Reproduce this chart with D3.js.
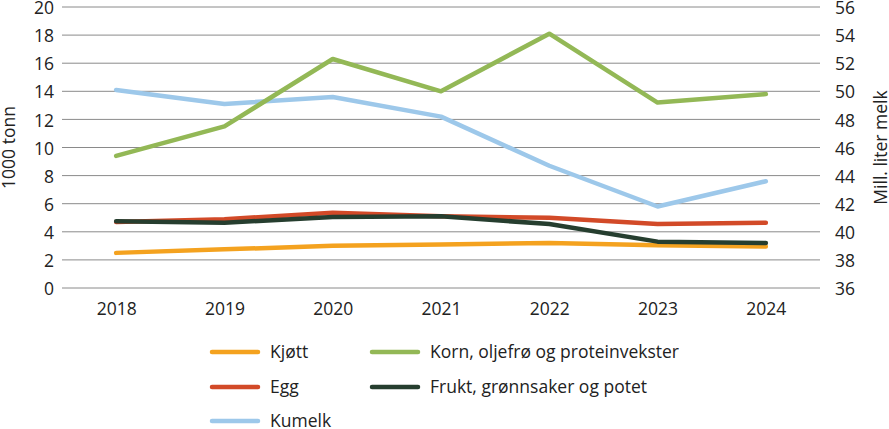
<!DOCTYPE html>
<html>
<head>
<meta charset="utf-8">
<script src="https://cdn.jsdelivr.net/npm/d3@7"></script>
<style>
  body { margin: 0; background: #fff; }
  svg text { font-family: "Open Sans", sans-serif; fill: #222; }
</style>
</head>
<body>
<svg id="chart" width="889" height="429"></svg>
<script>
// years on the x axis
var years = ["2018", "2019", "2020", "2021", "2022", "2023", "2024"];

// left axis, 1000 tonn
var kjott = [2.5, 2.75, 3.0, 3.1, 3.2, 3.05, 2.95];
var egg = [4.7, 4.9, 5.35, 5.1, 5.0, 4.55, 4.65];
var korn = [9.4, 11.5, 16.3, 14.0, 18.1, 13.2, 13.8];
var frukt = [4.75, 4.65, 5.05, 5.1, 4.55, 3.3, 3.2];

// right axis, mill. liter melk
var kumelk = [50.1, 49.1, 49.6, 48.2, 44.7, 41.8, 43.6];

var leftTicks = [0, 2, 4, 6, 8, 10, 12, 14, 16, 18, 20];
var rightTicks = [36, 38, 40, 42, 44, 46, 48, 50, 52, 54, 56];

var series = [
  { name: "Kjøtt", values: kjott, color: "#f4a21f", axis: "left" },
  { name: "Egg", values: egg, color: "#d24a28", axis: "left" },
  { name: "Kumelk", values: kumelk, color: "#9dc8ea", axis: "right" },
  { name: "Korn, oljefrø og proteinvekster", values: korn, color: "#93b856", axis: "left" },
  { name: "Frukt, grønnsaker og potet", values: frukt, color: "#263e2f", axis: "left" }
];

function drawChart(){
  var svg = d3.select("#chart");
  var mLeft = 62, mRight = 820, mTop = 7, mBottom = 288;
  var fs = "17.5px";

  var x = d3.scalePoint().domain(years).range([mLeft, mRight]).padding(0.5);
  var yL = d3.scaleLinear().domain([0, 20]).range([mBottom, mTop]);
  var yR = d3.scaleLinear().domain([36, 56]).range([mBottom, mTop]);

  // grid
  svg.append("g").selectAll("line").data(leftTicks).enter().append("line")
    .attr("x1", mLeft).attr("x2", mRight)
    .attr("y1", function(d){ return yL(d); })
    .attr("y2", function(d){ return yL(d); })
    .attr("stroke", "#8a8a8a").attr("stroke-width", 1);

  // axes (labels only)
  var gl = svg.append("g").attr("transform", "translate(" + (mLeft - 8) + ",1)")
    .call(d3.axisLeft(yL).tickValues(leftTicks).tickSize(0).tickPadding(0));
  var gr = svg.append("g").attr("transform", "translate(" + (mRight + 15) + ",1)")
    .call(d3.axisRight(yR).tickValues(rightTicks).tickSize(0).tickPadding(0));
  var gx = svg.append("g").attr("transform", "translate(0," + (mBottom + 12) + ")")
    .call(d3.axisBottom(x).tickSize(0).tickPadding(3));
  [gl, gr, gx].forEach(function(g){
    g.select(".domain").remove();
    g.selectAll("text").style("font-size", fs).attr("fill", "#222")
      .style("font-family", "'Open Sans', sans-serif");
  });

  // axis titles
  svg.append("text").attr("transform", "translate(15," + ((mTop + mBottom) / 2) + ") rotate(-90)")
    .attr("text-anchor", "middle").style("font-size", fs).text("1000 tonn");
  svg.append("text").attr("transform", "translate(887," + ((mTop + mBottom) / 2) + ") rotate(-90)")
    .attr("text-anchor", "middle").style("font-size", fs).text("Mill. liter melk");

  // lines
  var drawOrder = [0, 2, 3, 1, 4];
  drawOrder.forEach(function(i){
    var s = series[i];
    var yy = s.axis === "left" ? yL : yR;
    var line = d3.line()
      .x(function(d, j){ return x(years[j]); })
      .y(function(d){ return yy(d); });
    svg.append("path").datum(s.values)
      .attr("d", line)
      .attr("fill", "none")
      .attr("stroke", s.color)
      .attr("stroke-width", 4.5)
      .attr("stroke-linejoin", "round")
      .attr("stroke-linecap", "round");
  });

  // legend
  var legendPos = [[212, 352], [212, 387], [212, 421], [372, 352], [372, 387]];
  series.forEach(function(s, k){
    var p = legendPos[k];
    svg.append("line").attr("x1", p[0]).attr("x2", p[0] + 46)
      .attr("y1", p[1]).attr("y2", p[1])
      .attr("stroke", s.color).attr("stroke-width", 4.5).attr("stroke-linecap", "round");
    svg.append("text").attr("x", p[0] + 58).attr("y", p[1] + 6)
      .style("font-size", fs).text(s.name);
  });
}

drawChart();
</script>
</body>
</html>
